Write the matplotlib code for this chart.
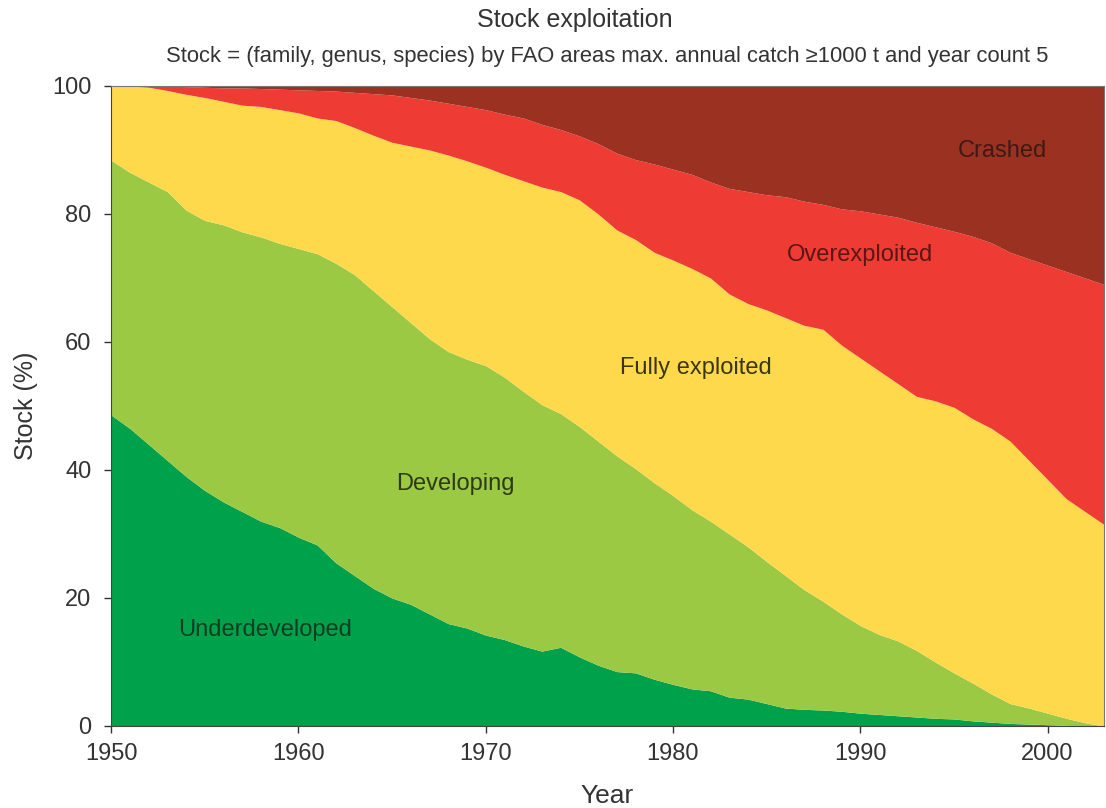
import numpy as np
import matplotlib
matplotlib.use("Agg")
import matplotlib.pyplot as plt

plt.rcParams['font.family'] = ['Liberation Sans', 'DejaVu Sans']

years = list(range(1950, 2004))

# Cumulative upper boundaries (%) of each status band
underdeveloped_top = [48.6, 46.5, 44.0, 41.5, 39.0, 36.8, 35.0, 33.5, 32.0, 31.0,
                      29.5, 28.3, 25.5, 23.5, 21.5, 20.0, 19.0, 17.5, 16.0, 15.3,
                      14.2, 13.5, 12.5, 11.7, 12.3, 10.8, 9.5, 8.5, 8.3, 7.3,
                      6.5, 5.8, 5.5, 4.5, 4.2, 3.5, 2.8, 2.6, 2.5, 2.3,
                      2.0, 1.8, 1.6, 1.4, 1.2, 1.1, 0.8, 0.6, 0.4, 0.3,
                      0.2, 0.1, 0.0, 0.0]
developing_top = [88.4, 86.5, 85.0, 83.5, 80.6, 79.0, 78.3, 77.2, 76.4, 75.4,
                  74.6, 73.8, 72.3, 70.5, 68.0, 65.5, 63.0, 60.5, 58.5, 57.3,
                  56.3, 54.5, 52.3, 50.2, 48.8, 46.8, 44.5, 42.2, 40.2, 38.0,
                  36.0, 33.8, 32.0, 30.0, 28.0, 25.7, 23.5, 21.3, 19.5, 17.5,
                  15.7, 14.3, 13.3, 11.8, 10.0, 8.3, 6.7, 5.0, 3.5, 2.8,
                  2.0, 1.2, 0.5, 0.0]
fully_top = [100.0, 100.0, 99.8, 99.3, 98.7, 98.2, 97.6, 97.0, 96.8, 96.3,
             95.8, 95.0, 94.6, 93.5, 92.3, 91.2, 90.6, 90.0, 89.2, 88.3,
             87.3, 86.2, 85.2, 84.2, 83.5, 82.2, 80.0, 77.5, 76.0, 74.0,
             72.8, 71.5, 70.0, 67.5, 66.0, 65.0, 63.8, 62.6, 62.0, 59.5,
             57.5, 55.5, 53.5, 51.5, 50.8, 49.8, 48.0, 46.5, 44.5, 41.5,
             38.5, 35.5, 33.5, 31.5]
over_top = [100.0, 100.0, 100.0, 100.0, 99.9, 99.8, 99.7, 99.7, 99.6, 99.5,
            99.4, 99.3, 99.2, 99.0, 98.8, 98.6, 98.2, 97.8, 97.3, 96.8,
            96.3, 95.6, 95.0, 94.0, 93.2, 92.2, 91.0, 89.5, 88.5, 87.8,
            87.0, 86.2, 85.0, 84.0, 83.5, 83.0, 82.7, 82.0, 81.5, 80.8,
            80.5, 80.0, 79.5, 78.7, 78.0, 77.3, 76.5, 75.5, 74.0, 73.0,
            72.0, 71.0, 70.0, 69.0]
crashed_top = [100.0] * len(years)

labels = ["Underdeveloped", "Developing", "Fully exploited", "Overexploited", "Crashed"]
colors = ["#00A14B", "#9BC944", "#FFD94C", "#EE3B34", "#9A3121"]
text_colors = ["#0E3D22", "#2E3A12", "#3A3513", "#5A1712", "#3E1A12"]
label_pos = [(1958.2, 15.0), (1968.4, 37.8), (1981.2, 55.9), (1990.0, 73.6), (1997.6, 89.8)]

fig = plt.figure(figsize=(11.06, 8.08), dpi=100)
ax = fig.add_axes([0.1004, 0.1015, 0.8976, 0.7921])

bounds = [np.zeros(len(years)), np.array(underdeveloped_top), np.array(developing_top),
          np.array(fully_top), np.array(over_top), np.array(crashed_top)]
yrs = np.array(years)
for i in range(5):
    ax.fill_between(yrs, bounds[i], bounds[i + 1], color=colors[i], linewidth=0)
    ax.text(label_pos[i][0], label_pos[i][1], labels[i], ha="center", va="center",
            fontsize=17, color=text_colors[i])

ax.set_xlim(1950, 2003)
ax.set_ylim(0, 100)
ax.set_xticks([1950, 1960, 1970, 1980, 1990, 2000])
ax.set_yticks([0, 20, 40, 60, 80, 100])
ax.tick_params(direction="out", length=5, width=1, labelsize=17, colors="#333333",
               labelcolor="#333333")
ax.tick_params(axis="y", pad=9)
ax.tick_params(axis="x", pad=7)
for s in ["left", "bottom"]:
    ax.spines[s].set_color("#444444")
for s in ["top", "right"]:
    ax.spines[s].set_color("#777777")
    ax.spines[s].set_linewidth(0.8)
ax.set_xlabel("Year", fontsize=19, color="#333333", labelpad=14)
ax.set_ylabel("Stock (%)", fontsize=18, color="#333333", labelpad=10)

fig.text(0.52, 0.975, "Stock exploitation", ha="center", va="center",
         fontsize=18, color="#333333")
fig.text(0.549, 0.930,
         "Stock = (family, genus, species) by FAO areas max. annual catch \u22651000 t and year count 5",
         ha="center", va="center", fontsize=15.8, color="#333333")

fig.savefig("out.png", dpi=100)
